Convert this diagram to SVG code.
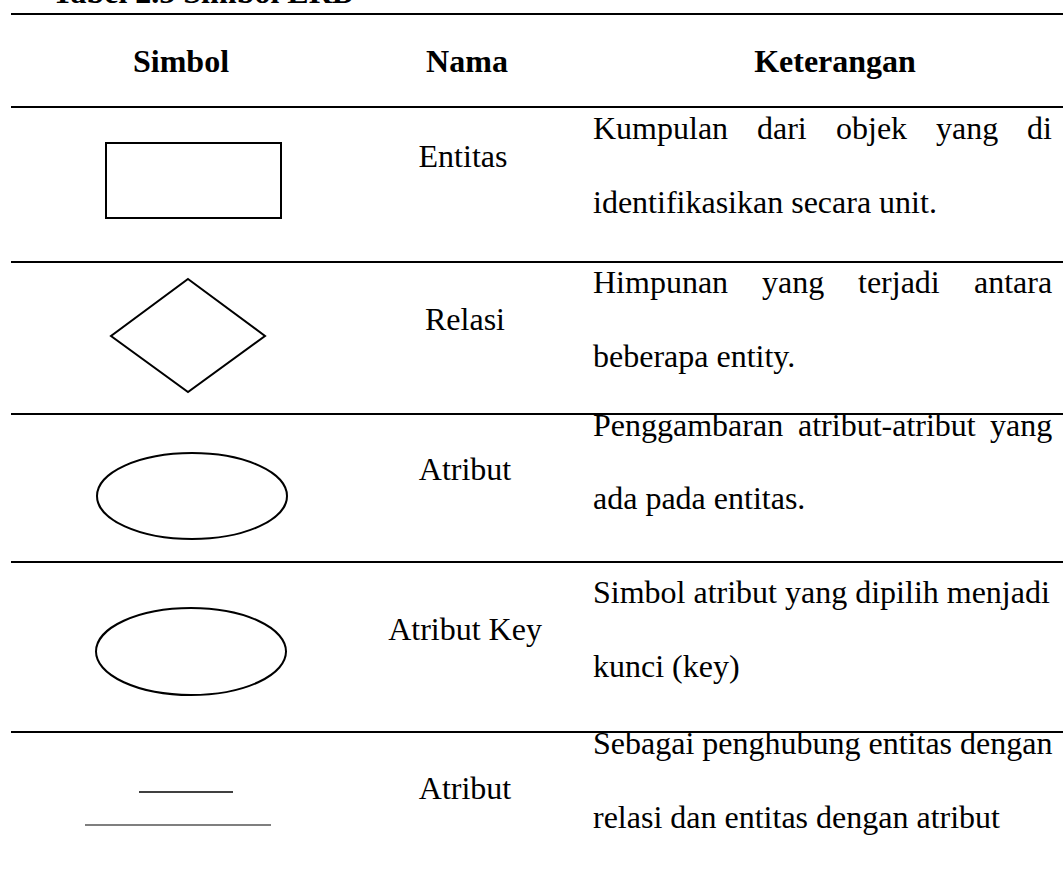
<svg xmlns="http://www.w3.org/2000/svg" width="1063" height="872" viewBox="0 0 1063 872">
<style>
  text { font-family: "Liberation Serif", "Times New Roman", serif; fill: #000; }
  .h { font-size: 32px; font-weight: bold; text-anchor: middle; }
  .t { font-size: 32px; }
  .n { font-size: 32px; text-anchor: middle; }
  .rule { stroke: #000; stroke-width: 2; }
  .shape { fill: #fff; stroke: #000; stroke-width: 2; }
</style>
<rect x="0" y="0" width="1063" height="872" fill="#fff"/>
<text class="t" x="52" y="2.5" font-weight="bold">Tabel 2.5 Simbol ERD</text>
<g id="rules">
  <line class="rule" x1="11" y1="14" x2="1063" y2="14"/>
  <line class="rule" x1="11" y1="107" x2="1063" y2="107"/>
  <line class="rule" x1="11" y1="262" x2="1063" y2="262"/>
  <line class="rule" x1="11" y1="414" x2="1063" y2="414"/>
  <line class="rule" x1="11" y1="562" x2="1063" y2="562"/>
  <line class="rule" x1="11" y1="732" x2="1063" y2="732"/>
</g>
<g id="header">
  <text class="h" x="181" y="72">Simbol</text>
  <text class="h" x="467" y="72">Nama</text>
  <text class="h" x="835" y="72">Keterangan</text>
</g>
<g id="row-entitas">
  <rect class="shape" x="106" y="143" width="175" height="75"/>
  <text class="n" x="463" y="167">Entitas</text>
  <text class="t" y="139"><tspan x="593">Kumpulan</tspan><tspan x="757">dari</tspan><tspan x="836">objek</tspan><tspan x="936">yang</tspan><tspan x="1027">di</tspan></text>
  <text class="t" x="593" y="213">identifikasikan secara unit.</text>
</g>
<g id="row-relasi">
  <polygon class="shape" points="188,279 265,336 188,392 111,336"/>
  <text class="n" x="465" y="330">Relasi</text>
  <text class="t" y="293"><tspan x="593">Himpunan</tspan><tspan x="762">yang</tspan><tspan x="858">terjadi</tspan><tspan x="974">antara</tspan></text>
  <text class="t" x="593" y="367">beberapa entity.</text>
</g>
<g id="row-atribut">
  <ellipse class="shape" cx="192" cy="496" rx="95" ry="43"/>
  <text class="n" x="465" y="480">Atribut</text>
  <text class="t" y="436"><tspan x="593">Penggambaran</tspan><tspan x="798">atribut-atribut</tspan><tspan x="990">yang</tspan></text>
  <text class="t" x="593" y="509">ada pada entitas.</text>
</g>
<g id="row-atribut-key">
  <ellipse class="shape" cx="191" cy="651.5" rx="95" ry="43.5"/>
  <text class="n" x="465" y="640">Atribut Key</text>
  <text class="t" x="593" y="603">Simbol atribut yang dipilih menjadi</text>
  <text class="t" x="593" y="677">kunci (key)</text>
</g>
<g id="row-garis">
  <line x1="139" y1="792" x2="233" y2="792" stroke="#000" stroke-width="1.3"/>
  <line x1="85" y1="825" x2="271" y2="825" stroke="#555" stroke-width="1.5"/>
  <text class="n" x="465" y="799">Atribut</text>
  <text class="t" x="593" y="754">Sebagai penghubung entitas dengan</text>
  <text class="t" x="593" y="828">relasi dan entitas dengan atribut</text>
</g>
</svg>
